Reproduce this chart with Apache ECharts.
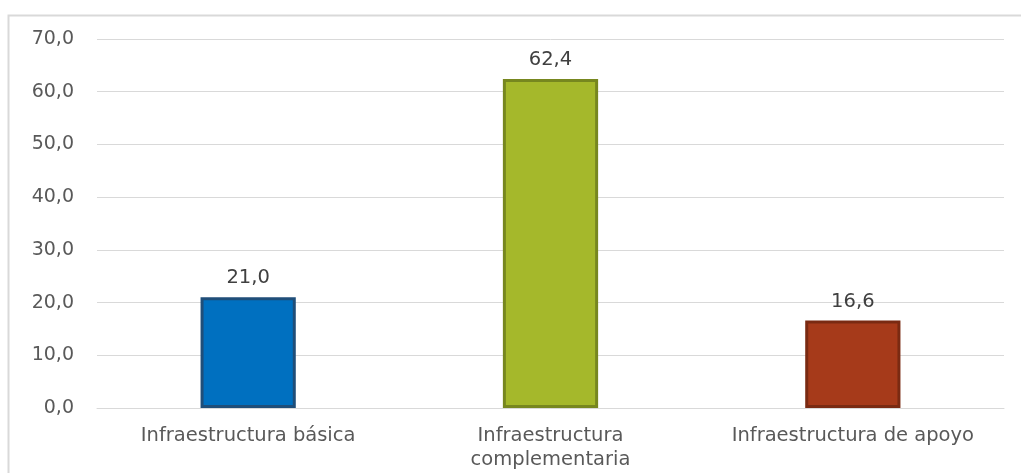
<!DOCTYPE html>
<html>
<head>
<meta charset="utf-8">
<script src="https://cdn.jsdelivr.net/npm/echarts@6/dist/echarts.min.js"></script>
<style>
html,body{margin:0;padding:0;background:#fff;}
#c{width:1021px;height:473px;}
</style>
</head>
<body>
<div id="c"></div>
<script>
const categories = ['Infraestructura básica', 'Infraestructura\ncomplementaria', 'Infraestructura de apoyo'];
const values = [21.0, 62.4, 16.6];
const fillColors = ['#0070c0', '#a5b82b', '#a63a1a'];
const borderColors = ['#1f4e79', '#77871f', '#7a2a12'];

const fmt = v => v.toFixed(1).replace('.', ',');
const FONT = "'DejaVu Sans', Verdana, sans-serif";

const chart = echarts.init(document.getElementById('c'));
chart.setOption({
  animation: false,
  graphic: [{
    type: 'rect',
    shape: {x: 8.5, y: 15.5, width: 1030, height: 480},
    style: {fill: 'none', stroke: '#d9d9d9', lineWidth: 2},
    silent: true
  }],
  grid: {left: 97, right: 17, top: 39, bottom: 65},
  xAxis: {
    type: 'category',
    data: categories,
    axisLine: {show: true, lineStyle: {color: '#d9d9d9', width: 1}},
    axisTick: {show: false},
    axisLabel: {interval: 0, hideOverlap: false, color: '#595959', fontSize: 19.5, fontFamily: FONT, lineHeight: 24, margin: 16}
  },
  yAxis: {
    type: 'value',
    min: 0, max: 70, interval: 10,
    axisLine: {show: false},
    axisTick: {show: false},
    splitLine: {lineStyle: {color: '#d9d9d9', width: 1}},
    axisLabel: {color: '#595959', fontSize: 19, fontFamily: FONT, margin: 23, formatter: v => fmt(v)}
  },
  series: [{
    type: 'bar',
    barWidth: '31.5%',
    data: values.map((v, i) => ({
      value: v,
      itemStyle: {color: fillColors[i], borderColor: borderColors[i], borderWidth: 3}
    })),
    label: {
      show: true, position: 'top', distance: 9,
      color: '#404040', fontSize: 19.5, fontFamily: FONT,
      formatter: p => fmt(p.value)
    }
  }]
});
</script>
</body>
</html>
